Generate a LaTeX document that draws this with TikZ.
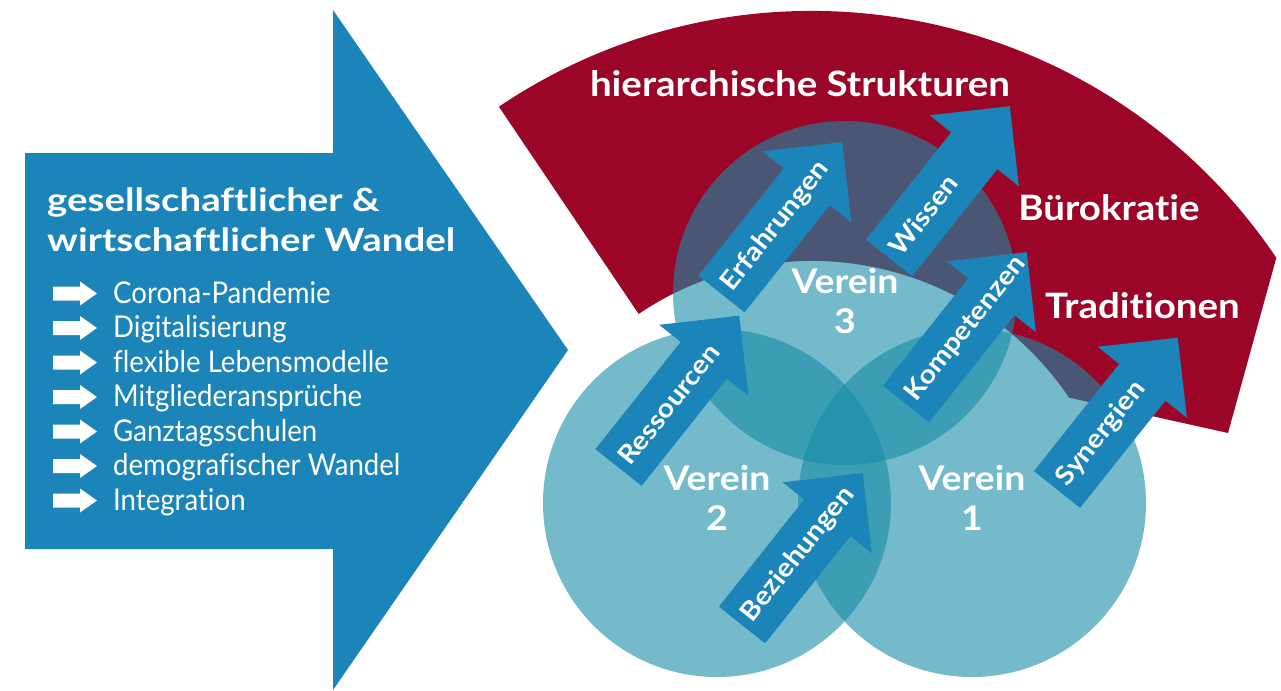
\documentclass[tikz,border=0pt]{standalone}
\usepackage{fontspec}
\setmainfont[Ligatures=NoCommon]{Lato}
\newfontfamily\listfont[FakeStretch=0.92, Ligatures=NoCommon]{Lato}
\newfontfamily\breitfont[FakeStretch=1.1, Ligatures=NoCommon]{Lato}
\newfontfamily\titelfont[FakeStretch=1.2, Ligatures=NoCommon]{Lato}
\usetikzlibrary{positioning}

\definecolor{wandelblau}{RGB}{27,132,185}
\definecolor{vereinblau}{RGB}{23,140,167}
\definecolor{strukturrot}{RGB}{155,5,40}

% blauer Pfeil mit Beschriftung: Fusspunkt, Name, Text
\newcommand{\pfeil}[3]{%
	\begin{scope}[shift={#1}, rotate=51.5]
		\fill[wandelblau] (0,-29.5) -- (137,-29.5) -- (137,-57) -- (194,0) -- (137,57) -- (137,29.5) -- (0,29.5) -- cycle;
		\node[pfeiltext] (#2) at (8,0) {#3};
	\end{scope}%
}

\begin{document}
\begin{tikzpicture}[x=1pt, y=1pt,
		kreis/.style={fill=vereinblau, fill opacity=0.6},
		pfeiltext/.style={anchor=west, rotate=51.5, inner sep=0pt, text=white, font=\breitfont\bfseries\fontsize{26}{26}\selectfont},
		vereintext/.style={align=center, inner sep=0pt, text=white, font=\breitfont\bfseries\fontsize{34}{40}\selectfont},
		rottext/.style={anchor=base, inner sep=0pt, text=white, font=\breitfont\bfseries\fontsize{35}{35}\selectfont},
		listtext/.style={anchor=base west, inner sep=0pt, text=white, font=\listfont\fontsize{30}{30}\selectfont}]
	\useasboundingbox (0,0) rectangle (1281,-690);

	% Wandel-Pfeil
	\fill[wandelblau] (25,-153) -- (333,-153) -- (333,-10) -- (568,-350) -- (333,-690) -- (333,-549) -- (25,-549) -- cycle;
	\node[anchor=north west, align=left, inner sep=0pt, text=white, font=\titelfont\bfseries\fontsize{32}{40}\selectfont] (wandel) at (47,-188) {gesellschaftlicher \&\\wirtschaftlicher Wandel};
	\foreach \eintrag [count=\i] in {Corona-Pandemie, Digitalisierung, flexible Lebensmodelle, Mitgliederansprüche, Ganztagsschulen, demografischer Wandel, Integration} {
		\pgfmathsetmacro{\zeile}{-303-34.5*(\i-1)}
		\fill[white] (53,\zeile+16.5) -- (80,\zeile+16.5) -- (80,\zeile+21.5) -- (97,\zeile+9.5) -- (80,\zeile-2.5) -- (80,\zeile+2.5) -- (53,\zeile+2.5) -- cycle;
		\node[listtext] (punkt\i) at (113,\zeile) {\eintrag};
	}

	% Strukturen-Bogen
	\fill[strukturrot] (498.9,-106.7) arc[start angle=124, end angle=34, radius=560] -- (1228,-433) -- (1069,-397.6) arc[start angle=34, end angle=124, radius=310] -- cycle;
	\node[rottext] (hierarchie) at (800,-97) {hierarchische Strukturen};
	\node[rottext] (buerokratie) at (1109,-220) {Bürokratie};
	\node[rottext] (tradition) at (1142.5,-318) {Traditionen};

	% Vereine
	\fill[kreis] (972,-503) circle (174);
	\fill[kreis] (717,-503) circle (174);
	\fill[kreis] (845,-293) circle (172);
	\node[vereintext] (verein3) at (845,-301) {Verein\\3};
	\node[vereintext] (verein2) at (717,-498) {Verein\\2};
	\node[vereintext] (verein1) at (972,-498) {Verein\\1};

	\pfeil{(721.5,-294)}{erfahrung}{Erfahrungen}
	\pfeil{(889,-258)}{wissen}{Wissen}
	\pfeil{(906,-404)}{kompetenz}{Kompetenzen}
	\pfeil{(1057,-489.5)}{synergie}{Synergien}
	\pfeil{(618.5,-467.5)}{ressource}{Ressourcen}
	\pfeil{(742,-625)}{beziehung}{Beziehungen}
\end{tikzpicture}
\end{document}
